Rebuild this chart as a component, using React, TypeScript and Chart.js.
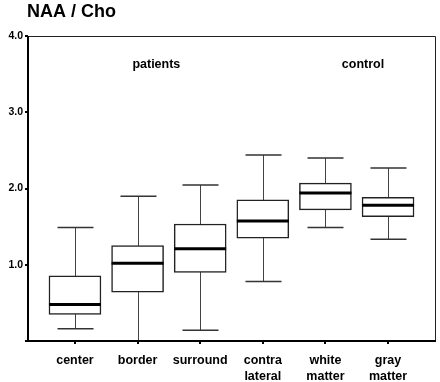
import React, { useEffect, useRef } from "react";
import { Chart, registerables } from "chart.js";

Chart.register(...registerables);

const categories: string[][] = [
  ["center"],
  ["border"],
  ["surround"],
  ["contra", "lateral"],
  ["white", "matter"],
  ["gray", "matter"],
];
const whiskerMin = [0.16, 0.0, 0.14, 0.78, 1.49, 1.335];
const q1 = [0.35, 0.64, 0.9, 1.35, 1.72, 1.63];
const median = [0.48, 1.02, 1.21, 1.575, 1.94, 1.78];
const q3 = [0.855, 1.25, 1.535, 1.85, 2.07, 1.885];
const whiskerMax = [1.49, 1.9, 2.045, 2.44, 2.4, 2.27];
const yTicks = [0, 1, 2, 3, 4];
const groupLabels = [
  { text: "patients", x: 1.3 },
  { text: "control", x: 4.6 },
];
const titleText = "NAA / Cho";

const FONT = "Arial, 'Liberation Sans', sans-serif";

const boxPlugin = {
  id: "boxExtras",
  beforeDatasetsDraw(chart: any) {
    const { ctx, scales } = chart;
    const xs = scales.x;
    const ys = scales.y;
    ctx.save();
    for (let i = 0; i < median.length; i++) {
      const cx = Math.round(xs.getPixelForValue(i)) + 0.5;
      const yMin = ys.getPixelForValue(whiskerMin[i]);
      const yMax = ys.getPixelForValue(whiskerMax[i]);
      ctx.strokeStyle = "#444";
      ctx.lineWidth = 1;
      ctx.beginPath();
      ctx.moveTo(cx, yMin);
      ctx.lineTo(cx, yMax);
      ctx.stroke();
      ctx.strokeStyle = "#333";
      ctx.lineWidth = 1.5;
      ctx.beginPath();
      ctx.moveTo(cx - 18, yMin);
      ctx.lineTo(cx + 18, yMin);
      ctx.moveTo(cx - 18, yMax);
      ctx.lineTo(cx + 18, yMax);
      ctx.stroke();
    }
    ctx.restore();
  },
  afterDatasetsDraw(chart: any) {
    const { ctx, scales, chartArea } = chart;
    const xs = scales.x;
    const ys = scales.y;
    ctx.save();
    for (let i = 0; i < median.length; i++) {
      const cx = xs.getPixelForValue(i);
      const my = ys.getPixelForValue(median[i]);
      ctx.strokeStyle = "#000";
      ctx.lineWidth = 3;
      ctx.beginPath();
      ctx.moveTo(cx - 26, my);
      ctx.lineTo(cx + 26, my);
      ctx.stroke();
    }
    // frame
    ctx.strokeStyle = "#222";
    ctx.lineWidth = 1;
    ctx.beginPath();
    ctx.moveTo(chartArea.left, chartArea.top + 0.5);
    ctx.lineTo(chartArea.right + 0.5, chartArea.top + 0.5);
    ctx.lineTo(chartArea.right + 0.5, chartArea.bottom);
    ctx.stroke();
    ctx.lineWidth = 2;
    ctx.strokeStyle = "#000";
    ctx.beginPath();
    ctx.moveTo(chartArea.left, chartArea.top);
    ctx.lineTo(chartArea.left, chartArea.bottom);
    ctx.lineTo(chartArea.right + 1, chartArea.bottom);
    ctx.stroke();
    // group labels
    ctx.fillStyle = "#000";
    ctx.font = `bold 12.5px ${FONT}`;
    ctx.textAlign = "center";
    ctx.textBaseline = "middle";
    for (const g of groupLabels) {
      ctx.fillText(g.text, xs.getPixelForValue(g.x), 65);
    }
    // title
    ctx.font = `bold 18px ${FONT}`;
    ctx.textAlign = "left";
    ctx.fillText(titleText, 27, 12);
    ctx.restore();
  },
};

export default function App() {
  const ref = useRef<HTMLCanvasElement>(null);
  useEffect(() => {
    document.body.style.margin = "0";
    const chart = new Chart(ref.current!, {
      type: "bar",
      data: {
        datasets: [
          {
            data: q1.map((v, i) => ({ x: i, y: [v, q3[i]] })) as any,
            backgroundColor: "#fff",
            borderColor: "#222",
            borderWidth: 1.5,
            borderSkipped: false,
            barThickness: 52,
          },
        ],
      },
      options: {
        animation: false,
        responsive: false,
        layout: { padding: { top: 36, right: 5, left: 0, bottom: 0 } },
        plugins: { legend: { display: false }, tooltip: { enabled: false } },
        scales: {
          x: {
            type: "linear",
            min: -0.75,
            max: 5.75,
            offset: false,
            afterBuildTicks: (s: any) => {
              s.ticks = categories.map((_, i) => ({ value: i }));
            },
            afterFit: (s: any) => {
              s.height = 41;
            },
            ticks: {
              callback: (v: any) => categories[Math.round(v)] ?? "",
              color: "#000",
              font: { family: FONT, size: 12.5, weight: "bold", lineHeight: 1.3 },
              padding: 8,
              maxRotation: 0,
              autoSkip: false,
            },
            grid: { offset: false, drawOnChartArea: false, drawTicks: true, tickLength: 3, color: "#000", lineWidth: 2 },
            border: { display: false },
          },
          y: {
            type: "linear",
            min: 0,
            max: 4,
            afterBuildTicks: (s: any) => {
              s.ticks = yTicks.map((v) => ({ value: v }));
            },
            afterFit: (s: any) => {
              s.width = 28;
            },
            ticks: {
              callback: (v: any) => (v === 0 ? "" : Number(v).toFixed(1)),
              color: "#000",
              font: { family: FONT, size: 10.5, weight: "bold" },
              padding: 2,
            },
            grid: { drawOnChartArea: false, drawTicks: true, tickLength: 3, color: "#000", lineWidth: 2 },
            border: { display: false },
          },
        },
      },
      plugins: [boxPlugin],
    });
    return () => chart.destroy();
  }, []);
  return (
    <div style={{ width: 440, height: 382 }}>
      <canvas ref={ref} width={440} height={382} />
    </div>
  );
}
